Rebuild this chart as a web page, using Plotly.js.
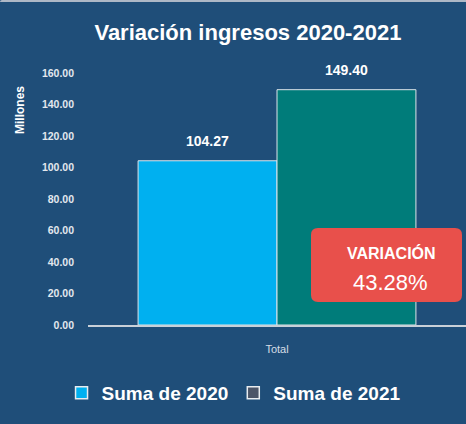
<!DOCTYPE html>
<html>
<head>
<meta charset="utf-8">
<script src="https://cdn.plot.ly/plotly-3.0.1.min.js"></script>
<style>
  html, body { margin: 0; padding: 0; background: #1f4e79; }
  #chart { width: 466px; height: 424px; position: absolute; left: 0; top: 0; }
  #strip { position: absolute; left: 0; top: 0; width: 466px; height: 2px; background: #aeb8c6; z-index: 10; border-top-left-radius: 3px; }
</style>
</head>
<body>
<div id="strip"></div>
<div id="chart"></div>
<script>
// ---- data ----
const categories = ['Total'];
const seriesNames = ['Suma de 2020', 'Suma de 2021'];
const values2020 = [104.27];
const values2021 = [149.40];
const variationLabel = 'VARIACIÓN';
const variationValue = '43.28%';
const yTicks = [0, 20, 40, 60, 80, 100, 120, 140, 160];

const barColors = ['#00b0f0', '#007c7a'];
const legendColors = ['#00b0f0', '#4b5568'];
const bg = '#1f4e79';
const font = 'Liberation Sans, Arial, sans-serif';

const traces = [
  { type: 'bar', x: categories, y: values2020, name: seriesNames[0], offsetgroup: 'a',
    marker: { color: barColors[0], line: { color: '#dde3ea', width: 1 } }, showlegend: false, hoverinfo: 'skip' },
  { type: 'bar', x: categories, y: values2021, name: seriesNames[1], offsetgroup: 'b',
    marker: { color: barColors[1], line: { color: '#dde3ea', width: 1 } }, showlegend: false, hoverinfo: 'skip' },
  // legend entries
  { type: 'bar', x: categories, y: [null], name: seriesNames[0], offsetgroup: 'a',
    marker: { color: legendColors[0], line: { color: '#e8ecf0', width: 1.5 } } },
  { type: 'bar', x: categories, y: [null], name: seriesNames[1], offsetgroup: 'b',
    marker: { color: legendColors[1], line: { color: '#e8ecf0', width: 1.5 } } }
];

const fmt = v => v.toFixed(2);

const annotations = [
  { x: categories[0], y: values2020[0], xref: 'x', yref: 'y', text: '<b>' + fmt(values2020[0]) + '</b>',
    showarrow: false, xshift: -69.5, yshift: 20, font: { family: font, size: 14, color: '#ffffff' } },
  { x: categories[0], y: values2021[0], xref: 'x', yref: 'y', text: '<b>' + fmt(values2021[0]) + '</b>',
    showarrow: false, xshift: 69.5, yshift: 20, font: { family: font, size: 14, color: '#ffffff' } },
  { xref: 'paper', yref: 'paper', x: (391 - 88) / 378, y: (325 - 253) / 252, xanchor: 'center', yanchor: 'middle',
    text: '<b>' + variationLabel + '</b>',
    showarrow: false, font: { family: font, size: 16, color: '#ffffff' } },
  { xref: 'paper', yref: 'paper', x: (390 - 88) / 378, y: (325 - 282) / 252, xanchor: 'center', yanchor: 'middle',
    text: variationValue,
    showarrow: false, font: { family: font, size: 22, color: '#ffffff' } },
  { xref: 'paper', yref: 'paper', x: (20 - 88) / 378, y: (325 - 110) / 252, xanchor: 'center', yanchor: 'middle',
    text: '<b>Millones</b>', textangle: -90,
    showarrow: false, font: { family: font, size: 12, color: '#ffffff' } }
];

// rounded red box (paper coords)
const bx0 = (311 - 88) / 378, bx1 = (462 - 88) / 378;
const by0 = (325 - 302) / 252, by1 = (325 - 228) / 252;
const rx = 7 / 378, ry = 7 / 252;
const boxPath = `M${bx0 + rx},${by1} L${bx1 - rx},${by1} Q${bx1},${by1} ${bx1},${by1 - ry} L${bx1},${by0 + ry} Q${bx1},${by0} ${bx1 - rx},${by0} L${bx0 + rx},${by0} Q${bx0},${by0} ${bx0},${by0 + ry} L${bx0},${by1 - ry} Q${bx0},${by1} ${bx0 + rx},${by1} Z`;

const layout = {
  width: 466, height: 424,
  paper_bgcolor: bg, plot_bgcolor: bg,
  margin: { l: 88, r: 0, t: 73, b: 99, pad: 0 },
  title: { text: '<b>Variación ingresos 2020-2021</b>', x: 0.532, xanchor: 'center', y: 1 - 32 / 424, yanchor: 'middle',
    font: { family: font, size: 22, color: '#ffffff' } },
  barmode: 'group', bargap: 0.265, bargroupgap: 0,
  xaxis: { showline: true, linecolor: '#c9d0d8', linewidth: 2, showgrid: false, zeroline: false,
    tickfont: { family: font, size: 11, color: '#d6dde6' }, ticks: '', ticklabelstandoff: 13, fixedrange: true },
  yaxis: { range: [0, 160], tickvals: yTicks, ticktext: yTicks.map(fmt), showgrid: false, zeroline: false, showline: false,
    ticks: '', ticklabelstandoff: 13, tickfont: { family: font, size: 10.5, color: '#e3e8ee', weight: 'bold' }, fixedrange: true },
  showlegend: true,
  legend: { orientation: 'h', x: -0.07, xanchor: 'left', y: (325 - 393) / 252, yanchor: 'middle',
    font: { family: font, size: 19, color: '#ffffff', weight: 'bold' }, bgcolor: 'rgba(0,0,0,0)', itemclick: false, traceorder: 'normal' },
  shapes: [
    { type: 'path', xref: 'paper', yref: 'paper', path: boxPath, fillcolor: '#e8504b', line: { width: 0 }, layer: 'above' }
  ],
  annotations: annotations
};

Plotly.newPlot('chart', traces, layout, { displayModeBar: false, staticPlot: true });
</script>
</body>
</html>
